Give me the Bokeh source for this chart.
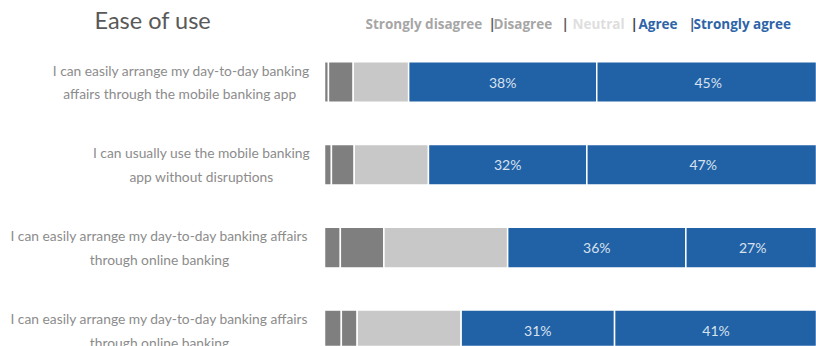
from bokeh.plotting import figure
from bokeh.models import Range1d, ColumnDataSource, Label
from bokeh.core.properties import value
from bokeh.embed import file_html
from bokeh.resources import INLINE

# ---- data ----
statements = [
    "I can easily arrange my day-to-day banking\naffairs through the mobile banking  app",
    "I can usually use the mobile banking\napp without disruptions",
    "I can easily arrange my day-to-day banking affairs\nthrough online banking",
    "I can easily arrange my day-to-day banking affairs\nthrough online banking",
]
categories = ["Strongly disagree", "Disagree", "Neutral", "Agree", "Strongly agree"]
strongly_disagree = [0.8, 1.4, 3.2, 3.4]
disagree = [5.0, 4.6, 8.8, 3.2]
neutral = [11.2, 15.0, 25.0, 21.0]
agree = [38, 32, 36, 31]
strongly_agree = [45, 47, 27, 41]

# ---- style ----
W, H = 816, 346
ZERO_PX = 324          # pixel where 0% sits
PX_PER_PCT = 4.95
ROW0_PX = 81.5         # centre of first bar (from top)
ROW_STEP = 82.8
FONT = "Lato"
colors = ["#7f7f7f", "#7f7f7f", "#c8c8c8", "#2161a6", "#2161a6"]

x_start = -ZERO_PX / PX_PER_PCT
x_end = (W - ZERO_PX) / PX_PER_PCT
y_top = -ROW0_PX / ROW_STEP
y_bot = (H - ROW0_PX) / ROW_STEP

p = figure(width=W, height=H, x_range=Range1d(x_start, x_end),
           y_range=Range1d(y_bot, y_top), output_backend="svg",
           toolbar_location=None, min_border=0)
p.axis.visible = False
p.grid.visible = False
p.outline_line_color = None
p.background_fill_color = "white"

rows = list(range(len(statements)))
src = ColumnDataSource(dict(row=rows, sd=strongly_disagree, d=disagree,
                            n=neutral, a=agree, sa=strongly_agree))
p.hbar_stack(["sd", "d", "n", "a", "sa"], y="row", height=0.49, color=colors,
             line_color="white", line_width=1.5, source=src)

# percentage labels in the agree segments
base = [s + d + n for s, d, n in zip(strongly_disagree, disagree, neutral)]
lx, ly, lt = [], [], []
for i in rows:
    lx.append(base[i] + agree[i] / 2)
    ly.append(i)
    lt.append(f"{agree[i]}%")
    lx.append(base[i] + agree[i] + strongly_agree[i] / 2)
    ly.append(i)
    lt.append(f"{strongly_agree[i]}%")
p.text(x=lx, y=ly, text=lt, text_align="center", text_baseline="middle",
       text_color="#d8e2ee", text_font=value(FONT), text_font_size="14px")

# statement labels (centre-justified lines, longest line ends near px 310)
label_center_px = [181, 201, 159, 159]
p.text(x=[x_start + c / PX_PER_PCT for c in label_center_px], y=rows,
       text=statements, text_align="center", text_baseline="middle",
       text_color="#8c8c8c", text_font=value(FONT), text_font_size="13.8px",
       text_line_height=1.4)

# title
p.add_layout(Label(x=94, y=H - 19, x_units="screen", y_units="screen",
                   text="Ease of use", text_font=FONT, text_font_size="23.5px",
                   text_color="#595959", text_baseline="middle"))

# legend as coloured text
leg_y = H - 23
pieces = [
    (365, categories[0], "#a6a6a6"),
    (488, "|", "#595959"),
    (493, categories[1], "#a6a6a6"),
    (561, "|", "#595959"),
    (572, categories[2], "#dedede"),
    (630, "|", "#404040"),
    (638, categories[3], "#2e64a8"),
    (688, "|", "#3d5a85"),
    (693, categories[4], "#2e64a8"),
]
for px, t, c in pieces:
    p.add_layout(Label(x=px, y=leg_y, x_units="screen", y_units="screen",
                       text=t, text_font="Open Sans", text_font_size="13.5px",
                       text_font_style="bold", text_color=c,
                       text_baseline="middle"))

open("out.html", "w").write(file_html(p, INLINE))
